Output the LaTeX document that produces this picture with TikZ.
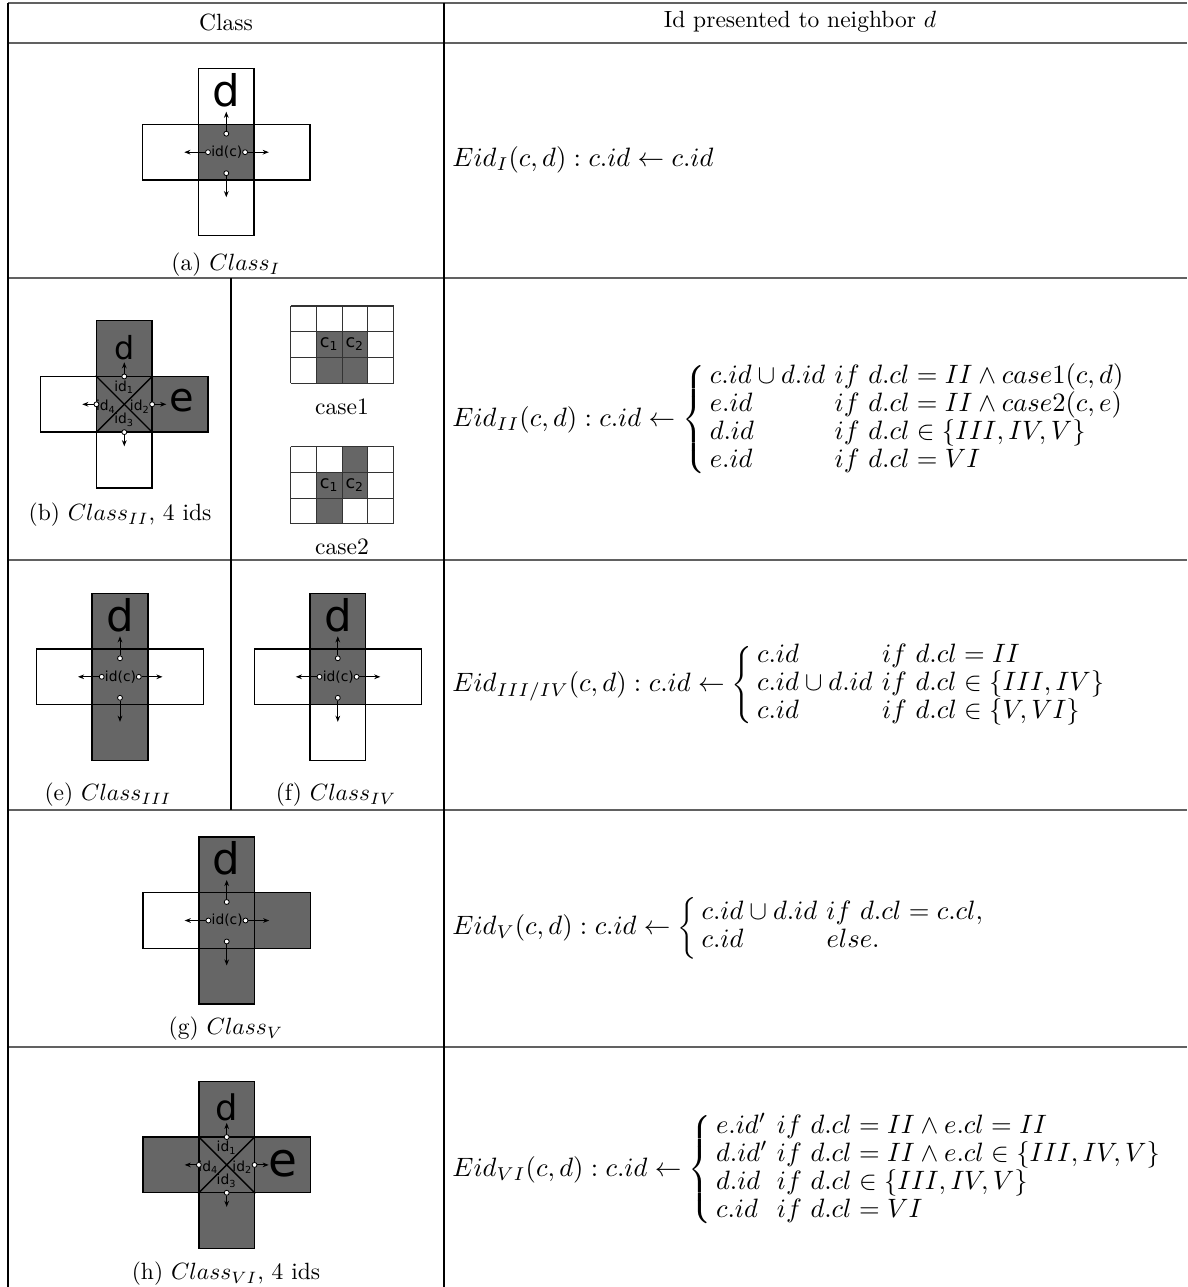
\RequirePackage{fix-cm}
\documentclass[tikz,border=0pt]{standalone}
\usepackage{amsmath}
\usepackage{fontspec}
\newfontfamily\dv{DejaVu Sans}
\usetikzlibrary{arrows.meta}
\definecolor{cgray}{RGB}{102,102,102}
\tikzset{
 cellw/.style={rectangle,draw=black,line width=0.6pt,fill=white,minimum size=23.7pt,inner sep=0pt},
 cellg/.style={cellw,fill=cgray},
 dotc/.style={circle,draw=black,fill=white,line width=0.35pt,minimum size=2.1pt,inner sep=0pt},
 arr/.style={-{Stealth[length=2.6pt,width=2pt]},line width=0.4pt},
 diag/.style={line width=0.6pt},
 idtxt/.style={font=\dv\fontsize{5.9}{6}\selectfont,inner sep=0pt},
 ctxt/.style={font=\dv\fontsize{7.5}{8}\selectfont,inner sep=0pt},
 bigl/.style={font=\dv\fontsize{18.5}{20}\selectfont,inner sep=0pt},
 capt/.style={inner sep=0pt},
 formula/.style={anchor=west,inner sep=0pt,font=\fontsize{11.3}{12}\selectfont},
 hrule/.style={line width=0.75pt,draw=black!62},
 vrule/.style={line width=0.5pt,draw=black},
 gridline/.style={line width=0.45pt,draw=black!80},
}
% cells of a cross: #1 name, #2 top, #3 left, #4 right, #5 bottom (w or g)
\newcommand\crosscells[5]{%
 \node[cellg] (#1-c) at (0,0) {};
 \node[cell#2] (#1-t) at (0,-55.7) {};
 \node[cell#3] (#1-l) at (-55.7,0) {};
 \node[cell#4] (#1-r) at (55.7,0) {};
 \node[cell#5] (#1-b) at (0,55.7) {};
}
% single id marks
\newcommand\idcmarks[1]{%
 \node[idtxt] (#1-id) at (0.5,0) {id(c)};
 \node[dotc] (#1-dt) at (0,-18.5) {};
 \node[dotc] (#1-db) at (0,21) {};
 \node[dotc] (#1-dl) at (-18.3,0) {};
 \node[dotc] (#1-dr) at (18.8,0) {};
 \coordinate (#1-at) at (0,-40.5);
 \coordinate (#1-ab) at (0,45);
 \coordinate (#1-al) at (-42,0);
 \coordinate (#1-ar) at (42.5,0);
 \draw[arr] (#1-dt) -- (#1-at);
 \draw[arr] (#1-db) -- (#1-ab);
 \draw[arr] (#1-dl) -- (#1-al);
 \draw[arr] (#1-dr) -- (#1-ar);
}
% four id marks
\newcommand\xmarks[1]{%
 \draw[diag] (#1-c.north west) -- (#1-c.south east);
 \draw[diag] (#1-c.north east) -- (#1-c.south west);
 \node[idtxt] (#1-i1) at (0,-17) {id\textsubscript{1}};
 \node[idtxt] (#1-i2) at (15.7,2.4) {id\textsubscript{2}};
 \node[idtxt] (#1-i3) at (0,15.7) {id\textsubscript{3}};
 \node[idtxt] (#1-i4) at (-18.3,2.4) {id\textsubscript{4}};
 \node[dotc] (#1-dt) at (0,-27.85) {};
 \node[dotc] (#1-db) at (0,27.85) {};
 \node[dotc] (#1-dl) at (-27.85,0) {};
 \node[dotc] (#1-dr) at (27.85,0) {};
 \coordinate (#1-at) at (0,-42);
 \coordinate (#1-ab) at (0,42);
 \coordinate (#1-al) at (-42,0);
 \coordinate (#1-ar) at (42,0);
 \draw[arr] (#1-dt) -- (#1-at);
 \draw[arr] (#1-db) -- (#1-ab);
 \draw[arr] (#1-dl) -- (#1-al);
 \draw[arr] (#1-dr) -- (#1-ar);
}
% 4x3 grid: #1 x, #2 y, #3 gray cells
\newcommand\casegrid[3]{%
 \foreach \cx/\cy in {#3} \fill[cgray] ({#1+\cx*25.7},{#2+\cy*25.7}) rectangle ++(25.7,25.7);
 \foreach \i in {0,...,4} \draw[gridline] ({#1+\i*25.7},#2) -- ++(0,77.1);
 \foreach \j in {0,...,3} \draw[gridline] (#1,{#2+\j*25.7}) -- ++(102.8,0);
}
\newcommand\mycases[1]{\left\{\,\def\arraystretch{1}\begin{array}{@{}l@{\hspace{4pt}}l@{}}#1\end{array}\right.}
\newcommand\sm[1]{\smash{#1}}
\begin{document}
\begin{tikzpicture}[x=0.4255pt,y=-0.4255pt]
\useasboundingbox (0,0) rectangle (1187,1287);
% table rules
\foreach \yy in {3,43,278,560,810,1047} \draw[hrule] (8,\yy) -- (1187,\yy);
\draw[vrule] (8,3) -- (8,1287);
\draw[vrule] (444,3) -- (444,1287);
\draw[vrule,line width=0.9pt] (444,3) -- (444,43);
\draw[vrule] (231,278) -- (231,810);
% header
\node[capt] (hclass) at (226,22) {Class};
\node[capt] (hid) at (800,22) {Id presented to neighbor $d$};
% (a)
\begin{scope}[shift={(226.3,152.2)}]
 \crosscells{a}{w}{w}{w}{w}
 \idcmarks{a}
 \node[bigl] (a-d) at (0,-62) {d};
\end{scope}
\node[capt] (capa) at (226,265) {(a) $Class_I$};
% (b)
\begin{scope}[shift={(124.3,404.3)}]
 \crosscells{b}{g}{w}{g}{w}
 \xmarks{b}
 \node[bigl,font=\dv\fontsize{13.5}{14}\selectfont] (b-d) at (0,-57) {d};
 \node[bigl,font=\dv\fontsize{17}{18}\selectfont] (b-e) at (57,-4) {e};
\end{scope}
\node[capt] (capb) at (120,515) {(b) $Class_{II}$, 4 ids};
% case grids
\casegrid{290.7}{306}{1/1,2/1,1/2,2/2}
\node[ctxt] (k1-c1) at (329.2,344.5) {c\textsubscript{1}};
\node[ctxt] (k1-c2) at (354.9,344.5) {c\textsubscript{2}};
\node[capt] (capk1) at (342,407) {case1};
\casegrid{290.7}{446.7}{2/0,1/1,2/1,1/2}
\node[ctxt] (k2-c1) at (329.2,485.2) {c\textsubscript{1}};
\node[ctxt] (k2-c2) at (354.9,485.2) {c\textsubscript{2}};
\node[capt] (capk2) at (342,547) {case2};
% (e)
\begin{scope}[shift={(120,676.8)}]
 \crosscells{e}{g}{w}{w}{g}
 \idcmarks{e}
 \node[bigl] (e-d) at (0,-62) {d};
\end{scope}
\node[capt] (cape) at (108,795) {(e) $Class_{III}$};
% (f)
\begin{scope}[shift={(337.8,676.8)}]
 \crosscells{f}{g}{w}{w}{w}
 \idcmarks{f}
 \node[bigl] (f-d) at (0,-62) {d};
\end{scope}
\node[capt] (capf) at (336,795) {(f) $Class_{IV}$};
% (g)
\begin{scope}[shift={(226.7,920.5)}]
 \crosscells{g}{g}{w}{g}{g}
 \idcmarks{g}
 \node[bigl] (g-d) at (0,-62) {d};
\end{scope}
\node[capt] (capg) at (226,1029) {(g) $Class_V$};
% (h)
\begin{scope}[shift={(226.7,1164.9)}]
 \crosscells{h}{g}{g}{g}{g}
 \xmarks{h}
 \node[bigl,font=\dv\fontsize{15}{16}\selectfont] (h-d) at (0,-58) {d};
 \node[bigl,font=\dv\fontsize{20}{21}\selectfont] (h-e) at (56,-1) {e};
\end{scope}
\node[capt] (caph) at (226,1274) {(h) $Class_{VI}$, 4 ids};
% formulas
\node[formula] (fa) at (452,160) {$Eid_I(c,d) : c.id \leftarrow c.id$};
\node[formula] (fb) at (452,420) {$Eid_{II}(c,d) : c.id \leftarrow \mycases{
 \sm{c.id \cup d.id} & \sm{if\ d.cl = II \wedge case1(c,d)}\\
 \sm{e.id} & \sm{if\ d.cl = II \wedge case2(c,e)}\\
 \sm{d.id} & \sm{if\ d.cl \in \{III,IV,V\}}\\
 \sm{e.id} & \sm{if\ d.cl = VI}}$};
\node[formula] (fef) at (452,685) {$Eid_{III/IV}(c,d) : c.id \leftarrow \mycases{
 \sm{c.id} & \sm{if\ d.cl = II}\\
 \sm{c.id \cup d.id} & \sm{if\ d.cl \in \{III,IV\}}\\
 \sm{c.id} & \sm{if\ d.cl \in \{V,VI\}}}$};
\node[formula] (fg) at (452,928) {$Eid_V(c,d) : c.id \leftarrow \mycases{
 \sm{c.id \cup d.id} & \sm{if\ d.cl = c.cl,}\\
 \sm{c.id} & \sm{else.}}$};
\node[formula] (fh) at (452,1170) {$Eid_{VI}(c,d) : c.id \leftarrow \mycases{
 \sm{e.id'} & \sm{if\ d.cl = II \wedge e.cl = II}\\
 \sm{d.id'} & \sm{if\ d.cl = II \wedge e.cl \in \{III,IV,V\}}\\
 \sm{d.id} & \sm{if\ d.cl \in \{III,IV,V\}}\\
 \sm{c.id} & \sm{if\ d.cl = VI}}$};
\end{tikzpicture}
\end{document}
